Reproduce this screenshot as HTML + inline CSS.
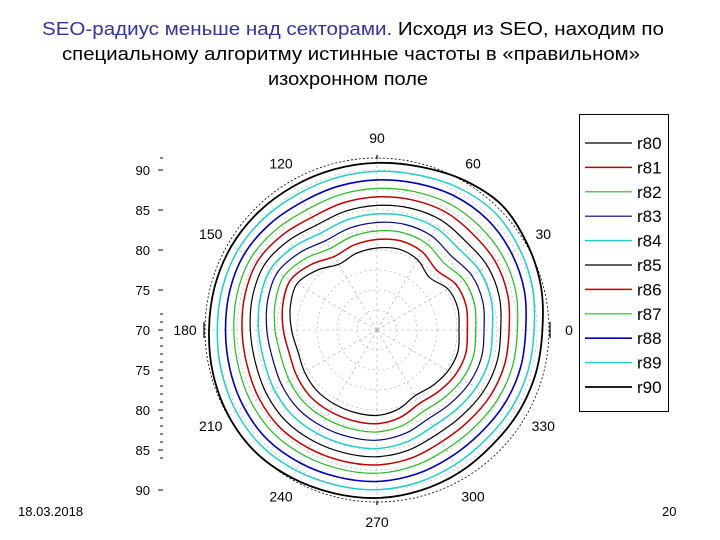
<!DOCTYPE html>
<html><head><meta charset="utf-8"><style>
body{margin:0;background:#fff;}
svg{display:block;font-family:"Liberation Sans",Arial,sans-serif;}
</style></head><body>
<svg id="chart" width="720" height="540" viewBox="0 0 720 540" xmlns="http://www.w3.org/2000/svg">
<g font-size="18">
<text x="42" y="35" textLength="622" lengthAdjust="spacingAndGlyphs"><tspan fill="#333399">SEO-радиус меньше над секторами.</tspan><tspan fill="#000"> Исходя из  SEO, находим по</tspan></text>
<text x="62" y="60" textLength="578" lengthAdjust="spacingAndGlyphs">специальному алгоритму истинные частоты  в «правильном»</text>
<text x="268" y="85" textLength="160" lengthAdjust="spacingAndGlyphs">изохронном поле</text>
</g>
<text x="18" y="516" font-size="13">18.03.2018</text>
<text x="662" y="516" font-size="13">20</text>
<g id="grid"></g>
<g id="series"></g>
<g id="axis" font-size="13"></g>
<g id="legend"></g>
</svg>
<script>
const seriesNames=["r80","r81","r82","r83","r84","r85","r86","r87","r88","r89","r90"];
const seriesBase=[80,81,82,83,84,85,86,87,88,89,90];
const angleDeg=[0,15,30,45,60,75,90,105,120,135,150,165,180,195,210,225,240,255,270,285,300,315,330,345];
const innerProfile=[0,0.2,0,-0.9,-0.1,0.2,0,-0.3,-0.7,0.3,1.2,0.9,0.4,0,0.2,0.4,0.4,0.4,0.4,0,-0.7,-0.4,0,0.2];
const outerProfile=[-0.3,0.2,0.6,1.0,0.6,0.1,-0.1,-0.2,-0.2,-0.1,0,0,0,0.2,0.4,0.5,0.3,0.1,0,-0.2,-0.4,-0.6,-0.5,-0.4];
const angleTicks=[0,30,60,90,120,150,180,210,240,270,300,330];
const leftTickLabels=["90","85","80","75","70","75","80","85","90"];
const colors=["#000","#c00000","#22bb22","#000080","#22cccc","#000","#c00000","#22bb22","#0000b0","#22cccc","#000"];
const widths=[1.2,1.5,1.2,1.2,1.5,1.2,1.5,1.2,1.6,1.5,1.8];
const NS="http://www.w3.org/2000/svg";
const cx=377,cy=330;
function rScale(v){return (v-70)*8.6-4;}
function pt(a,r){const t=a*Math.PI/180;return [cx+r*Math.cos(t),cy-r*Math.sin(t)];}
function mk(tag,attrs,parent){const e=document.createElementNS(NS,tag);for(const k in attrs)e.setAttribute(k,attrs[k]);parent.appendChild(e);return e;}
const grid=document.getElementById('grid');
[20,40,60,80,100,120,140,160].forEach(r=>{const c=mk('circle',{cx:cx,cy:cy,r:r,fill:'none',stroke:'#aaa','stroke-dasharray':'2 3','stroke-width':0.6},grid);});
const oc=mk('circle',{cx:cx,cy:cy,r:172,fill:'none',stroke:'#000','stroke-dasharray':'2 2','stroke-width':0.8},grid);

angleTicks.forEach(a=>{const p=pt(a,172);const l=mk('line',{x1:cx,y1:cy,x2:p[0],y2:p[1],stroke:'#aaa','stroke-dasharray':'3 3','stroke-width':0.6},grid);
const q=pt(a,192);const t=mk('text',{x:q[0],y:q[1]+5,'text-anchor':'middle','font-size':14},grid);t.textContent=String(a);});
[[cx,155,cx,159],[cx,501,cx,505],[204,322,204,338],[550,322,550,338]].forEach(s=>{mk('line',{x1:s[0],y1:s[1],x2:s[2],y2:s[3],stroke:'#000','stroke-width':1.2},grid);});
const ser=document.getElementById('series');
seriesBase.forEach((b,k)=>{
 const f=k/(seriesBase.length-1);
 const pts=angleDeg.map((a,i)=>pt(a,rScale(b+(1-f)*innerProfile[i]+f*outerProfile[i])));
 const n=pts.length;let d='M'+pts[0][0].toFixed(1)+','+pts[0][1].toFixed(1);
 for(let i=0;i<n;i++){const p0=pts[(i-1+n)%n],p1=pts[i],p2=pts[(i+1)%n],p3=pts[(i+2)%n];
  const c1=[p1[0]+(p2[0]-p0[0])/6,p1[1]+(p2[1]-p0[1])/6],c2=[p2[0]-(p3[0]-p1[0])/6,p2[1]-(p3[1]-p1[1])/6];
  d+=' C'+c1[0].toFixed(1)+','+c1[1].toFixed(1)+' '+c2[0].toFixed(1)+','+c2[1].toFixed(1)+' '+p2[0].toFixed(1)+','+p2[1].toFixed(1);}
 const p=mk('path',{d:d+'Z',fill:'none',stroke:colors[k],'stroke-width':widths[k]},ser);
 
 
});
const ax=document.getElementById('axis');
leftTickLabels.forEach((s,i)=>{const y=170+i*40;const t=mk('text',{x:150,y:y+5,'text-anchor':'end'},ax);t.textContent=s;});
for(let i=0;i<=40;i++){const y=170+i*8;if(i%5!==0&&(i<18||i>36))continue;const w=(i%5===0)?5:3;mk('line',{x1:163-w,y1:y,x2:163,y2:y,stroke:'#000','stroke-width':1},ax);}
mk('line',{x1:160,y1:158,x2:163,y2:158,stroke:'#000'},ax);
const lg=document.getElementById('legend');
const box=mk('rect',{x:579.5,y:114.5,width:89,height:297,fill:'#fff',stroke:'#000','stroke-width':1},lg);

seriesNames.forEach((s,k)=>{const y=143+k*24.4;
 const g=mk('g',{},lg);
 mk('line',{x1:585,y1:y,x2:632,y2:y,stroke:colors[k],'stroke-width':widths[k]},g);
 const t=mk('text',{x:637,y:y+6,'font-size':17},g);t.textContent=s;});
</script>
</body></html>
